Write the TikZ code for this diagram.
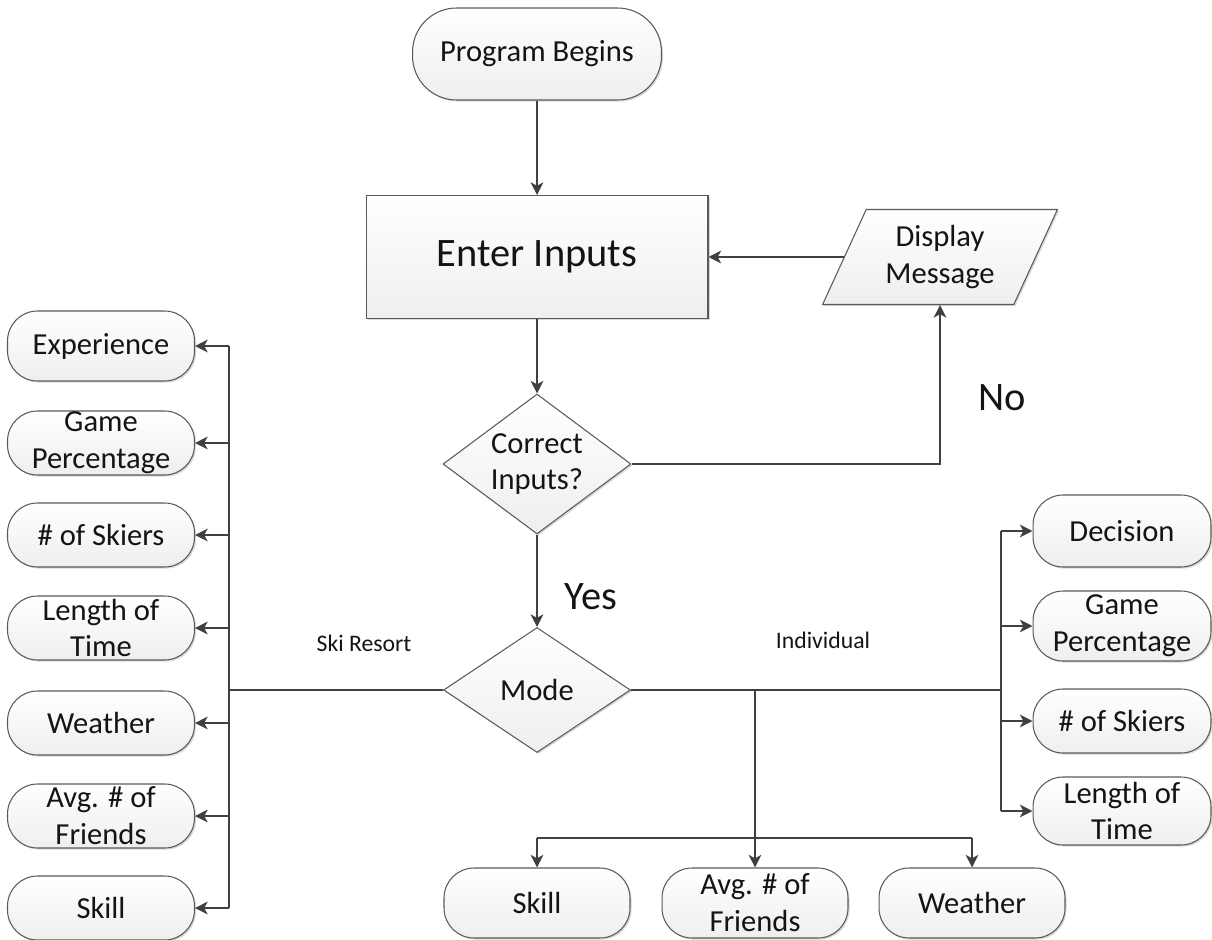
\documentclass[tikz,border=0pt]{standalone}
\usepackage{fontspec}
\setmainfont{Carlito}
\usetikzlibrary{arrows.meta,shapes.geometric,shadows}
\definecolor{edge}{HTML}{5A5A5A}
\definecolor{wire}{HTML}{404040}
\definecolor{ink}{HTML}{141414}
\begin{document}
\begin{tikzpicture}[x=0.02cm,y=-0.02cm,
  box/.style={draw=edge, line width=0.6pt, top color=white, bottom color=gray!13,
    text=ink, align=center, inner sep=0pt,
    font=\fontsize{17.4}{21}\selectfont,
    drop shadow={shadow xshift=0.9pt,shadow yshift=-0.9pt,opacity=0.3}},
  term/.style={box, rectangle, rounded corners=0.6cm, minimum width=3.74cm, minimum height=1.28cm},
  rterm/.style={term, minimum width=3.56cm, minimum height=1.4cm},
  bterm/.style={term, minimum width=3.72cm, minimum height=1.4cm},
  proc/.style={box, rectangle, font=\fontsize{23}{27}\selectfont},
  decide/.style={box, diamond},
  io/.style={box, trapezium, trapezium left angle=63, trapezium right angle=117,
    trapezium stretches=true},
  wireline/.style={draw=wire, line width=0.8pt},
  arr/.style={wireline, -{Stealth[length=7.2pt,width=7.2pt,inset=2pt]}},
  tag/.style={text=ink, inner sep=0pt, font=\fontsize{23}{27}\selectfont},
  small/.style={text=ink, inner sep=0pt, font=\fontsize{13.5}{16}\selectfont}
]
\useasboundingbox (0,0) rectangle (1212,939);

% main flow
\node[term, minimum width=4.98cm, minimum height=1.84cm, rounded corners=0.88cm] (pb) at (537,54) {Program Begins};
\node[proc, minimum width=6.84cm, minimum height=2.46cm] (ei) at (537,257) {Enter Inputs};
\node[io, minimum width=4.7cm, minimum height=1.9cm] (dm) at (940,257) {Display\\Message};
\node[decide, aspect=1.34, minimum width=3.76cm, minimum height=2.8cm] (ci) at (537,464) {Correct\\Inputs?};
\node[decide, aspect=1.5, minimum width=3.74cm, minimum height=2.5cm] (mode) at (537,690) {Mode};

% ski resort outputs
\node[term, minimum height=1.4cm] (lexp) at (101,346) {Experience};
\node[term] (lgp) at (101,443) {Game\\Percentage};
\node[term] (lsk) at (101,535) {\# of Skiers};
\node[term] (llt) at (101,628) {Length of\\Time};
\node[term] (lwe) at (101,723) {Weather};
\node[term] (laf) at (101,816) {Avg. \# of\\Friends};
\node[term] (lsl) at (101,908) {Skill};

% individual outputs
\node[rterm, minimum height=1.44cm] (rdec) at (1122,531) {Decision};
\node[rterm] (rgp) at (1122,626) {Game\\Percentage};
\node[rterm, minimum height=1.28cm] (rsk) at (1122,721) {\# of Skiers};
\node[rterm, minimum height=1.36cm] (rlt) at (1122,811) {Length of\\Time};

\node[bterm] (bsl) at (537,903) {Skill};
\node[bterm] (baf) at (755,903) {Avg. \# of\\Friends};
\node[bterm] (bwe) at (972,903) {Weather};

% labels
\node[tag] (yes) at (591,597) {Yes};
\node[tag] (no) at (1002,398) {No};
\node[small] (ski) at (364,643) {Ski Resort};
\node[small] (ind) at (823,640) {Individual};

% bus points
\coordinate (lbus) at (229,690);
\coordinate (rbus) at (1001,690);
\coordinate (bjoin) at (755,690);
\coordinate (bbus) at (755,838);

% connectors
\draw[arr] (pb) -- (ei);
\draw[arr] (dm.west) -- (dm.west -| ei.east);
\draw[arr] (ei) -- (ci);
\draw[arr] (ci.east) -| (dm.center |- dm.south);
\draw[arr] (ci) -- (mode);

\draw[wireline] (mode.west) -- (lbus);
\draw[wireline] (lbus |- lexp) -- (lbus |- lsl);
\foreach \n in {lexp,lgp,lsk,llt,lwe,laf,lsl}
  \draw[arr] (lbus |- \n) -- (\n.east);

\draw[wireline] (mode.east) -- (rbus);
\draw[wireline] (rbus |- rdec) -- (rbus |- rlt);
\foreach \n in {rdec,rgp,rsk,rlt}
  \draw[arr] (rbus |- \n) -- (\n.west);

\draw[arr] (bjoin) -- (baf.north);
\draw[wireline] (bsl.north |- bbus) -- (bwe.north |- bbus);
\draw[arr] (bsl.north |- bbus) -- (bsl.north);
\draw[arr] (bwe.north |- bbus) -- (bwe.north);
\end{tikzpicture}
\end{document}
